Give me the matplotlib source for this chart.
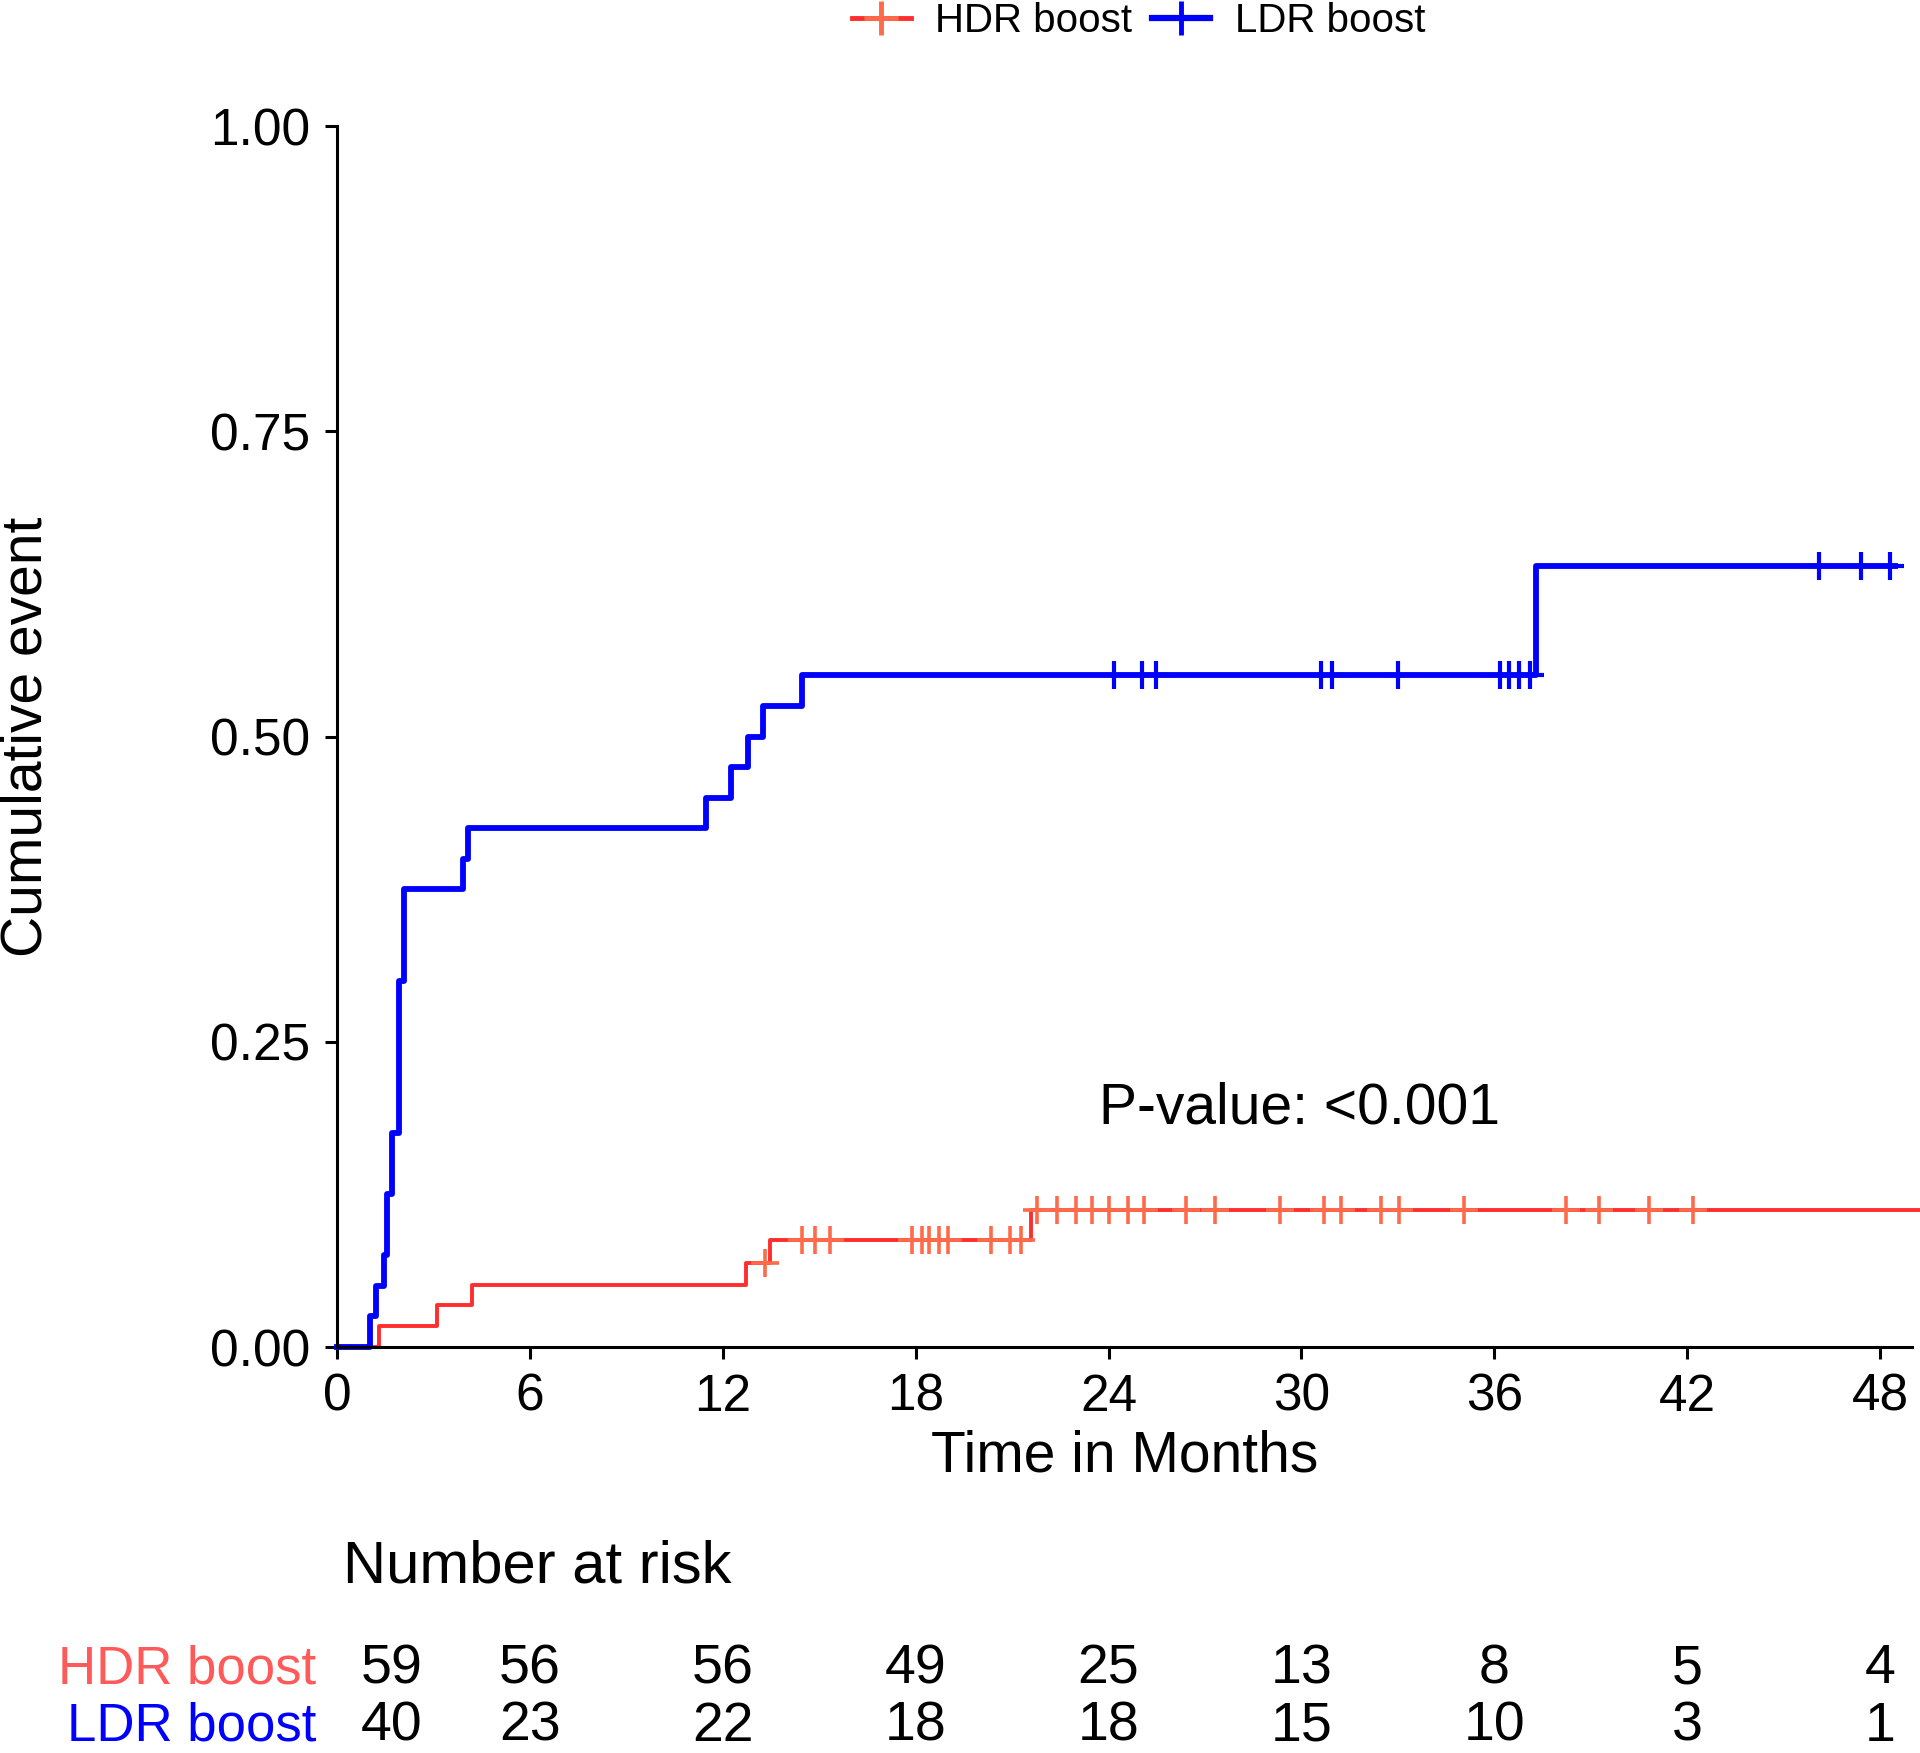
import numpy as np
import matplotlib
matplotlib.use("Agg")
import matplotlib.pyplot as plt
from matplotlib.lines import Line2D

plt.rcParams["font.family"] = ["Liberation Sans", "DejaVu Sans"]

# --- data ---
groups = ["HDR boost", "LDR boost"]

# cumulative event curves (step-post)
hdr_time = [0, 1.3, 3.1, 4.2, 12.73, 13.48, 21.6, 49.5]
hdr_cum = [0, 0.017, 0.034, 0.051, 0.069, 0.088, 0.112, 0.112]
ldr_time = [0, 1.04, 1.2, 1.46, 1.57, 1.72, 1.93, 2.09, 3.91, 4.07,
            11.48, 12.27, 12.79, 13.26, 14.46, 37.3, 48.45]
ldr_cum = [0, 0.025, 0.05, 0.075, 0.125, 0.175, 0.30, 0.375, 0.40, 0.425,
           0.45, 0.475, 0.50, 0.525, 0.55, 0.64, 0.64]

# censoring times
hdr_cens = [13.31, 14.45, 14.86, 15.33, 17.88, 18.19, 18.43, 18.74, 19.02,
            20.33, 20.93, 21.29, 21.76, 22.4, 23.0, 23.5, 24.02, 24.62, 25.1,
            26.4, 27.31, 29.33, 30.69, 31.24, 32.48, 33.02, 35.05, 38.24,
            39.26, 40.81, 42.19]
ldr_cens = [24.17, 25.04, 25.47, 30.6, 30.94, 33.0, 36.18, 36.47, 36.78,
            37.12, 46.1, 47.4, 48.3]

# number at risk table
risk_times = [0, 6, 12, 18, 24, 30, 36, 42, 48]
hdr_risk = [59, 56, 56, 49, 25, 13, 8, 5, 4]
ldr_risk = [40, 23, 22, 18, 18, 15, 10, 3, 1]

pval_text = "P-value: <0.001"

# --- styling ---
RED = "#FF2E2E"
RED_MARK = "#FF6A4A"
RED_LABEL = "#FF5A5A"
BLUE = "#0000FF"


def step_value(times, vals, t):
    idx = np.searchsorted(times, t, side="right") - 1
    return np.asarray(vals)[idx]


fig = plt.figure(figsize=(19.2, 17.53), dpi=100)
ax = fig.add_axes([0.1755, 0.2316, 0.8205, 0.6965])

ax.step(hdr_time, hdr_cum, where="post", color=RED, lw=2.8, clip_on=False)
ax.step(ldr_time, ldr_cum, where="post", color=BLUE, lw=4.2, clip_on=False)
ax.plot(hdr_cens, step_value(hdr_time, hdr_cum, hdr_cens), ls="none",
        marker="+", ms=20, mew=2.6, color=RED_MARK, clip_on=False)
ax.plot(ldr_cens, step_value(ldr_time, ldr_cum, ldr_cens), ls="none",
        marker="+", ms=20, mew=3.0, color=BLUE, clip_on=False)

ax.set_xlim(0, 49)
ax.set_ylim(0, 1.0)
ax.set_xticks(risk_times)
ax.set_yticks([0, 0.25, 0.5, 0.75, 1.0])
ax.set_yticklabels(["0.00", "0.25", "0.50", "0.75", "1.00"])
ax.tick_params(axis="both", labelsize=37, length=8.5, width=2.2,
               direction="out", pad=11, colors="black")
ax.tick_params(axis="x", pad=10)

for side in ["top", "right"]:
    ax.spines[side].set_visible(False)
for side in ["left", "bottom"]:
    ax.spines[side].set_linewidth(2.2)

ax.set_xlabel("Time in Months", fontsize=41, va="center")
ax.xaxis.set_label_coords(0.5, -0.090)
ax.set_ylabel("Cumulative event", fontsize=41, va="center")
ax.yaxis.set_label_coords(-0.197, 0.5)

ax.text(23.7, 0.195, pval_text, fontsize=41, ha="left", va="center")

# legend on top
handles = [
    Line2D([], [], color=RED, lw=3.5, marker="+", ms=24, mew=3.5,
           markeredgecolor=RED_MARK),
    Line2D([], [], color=BLUE, lw=4.5, marker="+", ms=24, mew=3.5),
]
fig.legend(handles, groups, loc="center", bbox_to_anchor=(0.593, 0.988),
           ncol=2, frameon=False, fontsize=29, handlelength=1.45,
           handletextpad=0.6, columnspacing=0.5, numpoints=1)

# number at risk table
tr = ax.get_xaxis_transform()
ax.text(0.2, -0.180, "Number at risk", transform=tr, fontsize=43,
        ha="left", va="center")
risk_x = list(risk_times)
risk_x[0] = risk_times[0] + 1.7
for row_y, label, color, counts in [(-0.264, groups[0], RED_LABEL, hdr_risk),
                                    (-0.311, groups[1], BLUE, ldr_risk)]:
    ax.text(-0.013, row_y, label, transform=ax.transAxes, fontsize=38,
            color=color, ha="right", va="center")
    for x, n in zip(risk_x, counts):
        ax.text(x, row_y, str(n), transform=tr, fontsize=40,
                ha="center", va="center")

fig.savefig("out.png", dpi=100, facecolor="white")
